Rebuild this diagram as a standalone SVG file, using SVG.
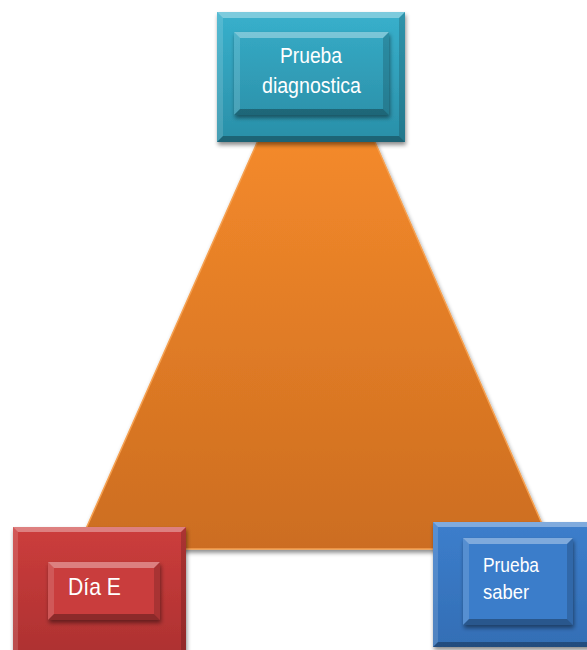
<svg xmlns="http://www.w3.org/2000/svg" width="587" height="650" viewBox="0 0 587 650">
<defs>
<style>
.lbl{font-family:"Liberation Sans",Arial,sans-serif;fill:#ffffff}
.hi{fill:#ffffff;opacity:.35}
.hi2{fill:#ffffff;opacity:.14}
.lo{fill:#000000;opacity:.3}
.lo2{fill:#000000;opacity:.16}
</style>
<linearGradient id="gTri" x1="0" y1="0" x2="0" y2="1">
<stop offset="0" stop-color="#FE912E"/>
<stop offset="1" stop-color="#CC6D20"/>
</linearGradient>
<linearGradient id="gTeal" x1="0" y1="0" x2="0" y2="1">
<stop offset="0" stop-color="#38B0CC"/>
<stop offset="1" stop-color="#2A8FA8"/>
</linearGradient>
<linearGradient id="gTealIn" x1="0" y1="0" x2="0" y2="1">
<stop offset="0" stop-color="#35A8C3"/>
<stop offset="1" stop-color="#2C93AC"/>
</linearGradient>
<linearGradient id="gRed" x1="0" y1="0" x2="0" y2="1">
<stop offset="0" stop-color="#CC3D3C"/>
<stop offset="1" stop-color="#AD3131"/>
</linearGradient>
<linearGradient id="gBlue" x1="0" y1="0" x2="0" y2="1">
<stop offset="0" stop-color="#3C7ECC"/>
<stop offset="1" stop-color="#336EB5"/>
</linearGradient>
<filter id="sh" x="-20%" y="-20%" width="140%" height="150%">
<feDropShadow dx="1" dy="3" stdDeviation="2" flood-color="#000" flood-opacity="0.45"/>
</filter>
</defs>

<g id="triangle">
<polygon points="307,30 326,30 553,549 77,549" fill="url(#gTri)" stroke="#F5A050" stroke-width="1.5" filter="url(#sh)"/>
</g>

<g id="node-top">
<rect x="217" y="12" width="188" height="130" fill="url(#gTeal)" filter="url(#sh)"/>
<polygon class="hi" points="217,12 405,12 399,18 223,18"/>
<polygon class="hi2" points="217,12 223,18 223,136 217,142"/>
<polygon class="lo" points="217,142 405,142 399,136 223,136"/>
<polygon class="lo2" points="405,12 405,142 399,136 399,18"/>
<rect x="234" y="32" width="155" height="83" fill="url(#gTealIn)" filter="url(#sh)"/>
<polygon class="hi" points="234,32 389,32 383,38 240,38"/>
<polygon class="hi2" points="234,32 240,38 240,109 234,115"/>
<polygon class="lo" points="234,115 389,115 383,109 240,109"/>
<polygon class="lo2" points="389,32 389,115 383,109 383,38"/>
<text class="lbl" x="280" y="63" font-size="21.5" textLength="62" lengthAdjust="spacingAndGlyphs">Prueba</text>
<text class="lbl" x="262" y="93" font-size="21.5" textLength="99" lengthAdjust="spacingAndGlyphs">diagnostica</text>
</g>

<g id="node-left">
<rect x="13" y="527" width="173" height="130" fill="url(#gRed)" filter="url(#sh)"/>
<polygon class="hi" points="13,527 186,527 181,532 18,532"/>
<polygon class="hi2" points="13,527 18,532 18,657 13,657"/>
<polygon class="lo2" points="186,527 186,657 181,657 181,532"/>
<rect x="48" y="562" width="112" height="58" fill="#C93D3D" filter="url(#sh)"/>
<polygon class="hi" points="48,562 160,562 154,568 54,568"/>
<polygon class="hi2" points="48,562 54,568 54,614 48,620"/>
<polygon class="lo" points="48,620 160,620 154,614 54,614"/>
<polygon class="lo2" points="160,562 160,620 154,614 154,568"/>
<text class="lbl" x="68" y="595" font-size="24" textLength="53" lengthAdjust="spacingAndGlyphs">Día E</text>
</g>

<g id="node-right">
<rect x="433" y="522" width="160" height="125" fill="url(#gBlue)" filter="url(#sh)"/>
<polygon class="hi" points="433,522 593,522 588,527 438,527"/>
<polygon class="hi2" points="433,522 438,527 438,642 433,647"/>
<polygon class="lo" points="433,647 593,647 588,642 438,642"/>
<rect x="463" y="538" width="110" height="87" fill="#3B7DCA" filter="url(#sh)"/>
<polygon class="hi" points="463,538 573,538 567,544 469,544"/>
<polygon class="hi2" points="463,538 469,544 469,619 463,625"/>
<polygon class="lo" points="463,625 573,625 567,619 469,619"/>
<polygon class="lo2" points="573,538 573,625 567,619 567,544"/>
<text class="lbl" x="483" y="572" font-size="21" textLength="56" lengthAdjust="spacingAndGlyphs">Prueba</text>
<text class="lbl" x="483" y="599" font-size="21" textLength="46" lengthAdjust="spacingAndGlyphs">saber</text>
</g>

<g id="connectors"></g>
</svg>
